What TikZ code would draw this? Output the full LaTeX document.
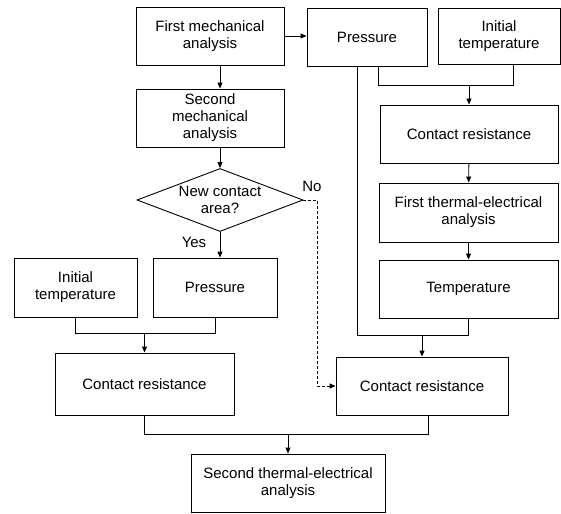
\documentclass[tikz,border=0pt]{standalone}
\usepackage{fontspec}
\setmainfont{Liberation Sans}
\usetikzlibrary{arrows.meta,positioning,shapes.geometric}

\begin{document}
\begin{tikzpicture}[
    x=1pt, y=-1pt,
    every node/.style={
        font=\fontsize{15}{17}\selectfont,
        align=center,
        inner sep=2pt
    },
    block/.style={
        draw,
        rectangle,
        line width=0.9pt
    },
    decision/.style={
        draw,
        diamond,
        aspect=2.6,
        inner sep=0pt,
        line width=0.9pt
    },
    flow/.style={
        draw,
        line width=0.9pt,
        -{Triangle[length=6pt,width=5pt]}
    },
    link/.style={
        draw,
        line width=0.9pt
    }
]
\useasboundingbox (0,0) rectangle (561,513);

% mechanical side
\node[block, minimum width=148pt, minimum height=58pt] (mech1) at (210,36) {First mechanical\\analysis};
\node[block, minimum width=148pt, minimum height=58pt] (mech2) at (210,118) {Second\\mechanical\\analysis};
\node[decision, minimum width=166pt, minimum height=63pt] (newarea) at (220,200) {New contact\\area?};
\node (yes) at (194,242) {Yes};
\node (no) at (312,186) {No};
\node[block, minimum width=123pt, minimum height=59pt] (inittemp2) at (75.5,287.5) {Initial\\temperature};
\node[block, minimum width=124pt, minimum height=59pt] (press2) at (215,287.5) {Pressure};
\node[block, minimum width=179pt, minimum height=62pt] (contact1) at (144.5,384) {Contact resistance};

% thermal-electrical side
\node[block, minimum width=120pt, minimum height=58pt] (press1) at (367,37) {Pressure};
\node[block, minimum width=122pt, minimum height=56pt] (inittemp1) at (499,36) {Initial\\temperature};
\node[block, minimum width=178pt, minimum height=58pt] (contact0) at (469,134) {Contact resistance};
\node[block, minimum width=179pt, minimum height=59pt] (thermal1) at (468.5,212.5) {First thermal-electrical\\analysis};
\node[block, minimum width=179pt, minimum height=58pt] (temp) at (468.5,289) {Temperature};
\node[block, minimum width=172pt, minimum height=58pt] (contact2) at (422,386) {Contact resistance};
\node[block, minimum width=194pt, minimum height=58pt] (thermal2) at (288,483) {Second thermal-electrical\\analysis};

% junctions
\path (contact0.north) ++(0,-19) coordinate (join0);
\path (contact1.north) ++(0,-19) coordinate (join1);
\path (contact2.north) ++(0,-21) coordinate (join2);
\path (thermal2.north) ++(0,-19) coordinate (join3);

% connectors
\draw[flow] (newarea.north |- mech1.south) -- (newarea.north |- mech2.north);
\draw[flow] (newarea.north |- mech2.south) -- (newarea.north);
\draw[flow] (mech1.east) -- (mech1.east -| press1.west);
\draw[flow] (newarea.south) -- (newarea.south |- press2.north);
\draw[flow, dash pattern=on 3pt off 2pt] (newarea.east) -| ([xshift=-18pt]contact2.west) -- (contact2.west);
\draw[link] (inittemp2.south) |- (join1) -| (press2.south);
\draw[flow] (join1) -- (contact1.north);
\draw[link] ([xshift=11pt]press1.south) |- (join0) -| ([xshift=14pt]inittemp1.south);
\draw[flow] (join0) -- (contact0.north);
\draw[flow] (contact0) -- (thermal1);
\draw[flow] (thermal1) -- (temp);
\draw[link] ([xshift=-10pt]press1.south) |- (join2) -| (temp.south);
\draw[flow] (join2) -- (contact2.north);
\draw[link] (contact1.south) |- (join3) -| ([xshift=6pt]contact2.south);
\draw[flow] (join3) -- (thermal2.north);

\end{tikzpicture}
\end{document}
